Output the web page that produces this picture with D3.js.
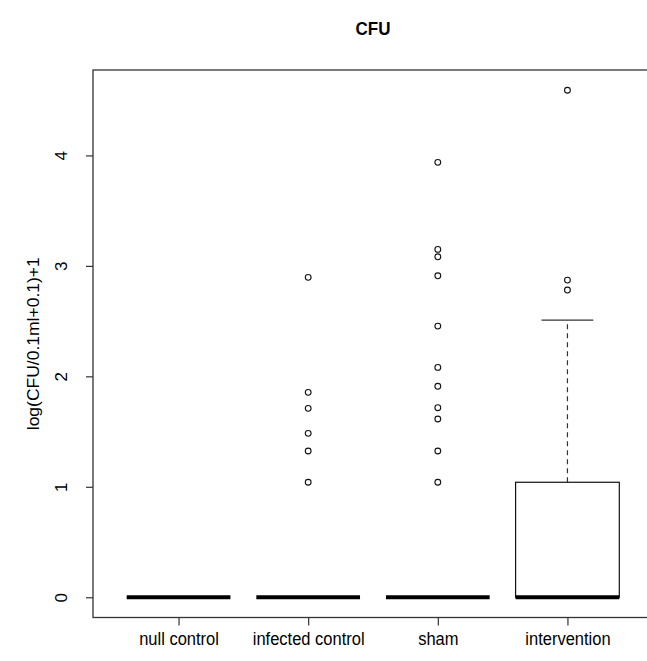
<!DOCTYPE html>
<html>
<head>
<meta charset="utf-8">
<script src="https://cdn.jsdelivr.net/npm/d3@7"></script>
<style>
  body { margin: 0; background: #fff; }
  text { font-family: "Liberation Sans", Arial, sans-serif; fill: #000; }
</style>
</head>
<body>
<div id="chart"></div>
<script>

// groups on the x axis
var categories = ["null control", "infected control", "sham", "intervention"];

// box statistics per group (log scale values)
var lowerWhisker = [0, 0, 0, 0];
var lowerHinge   = [0, 0, 0, 0];
var medians      = [0, 0, 0, 0];
var upperHinge   = [0, 0, 0, 1.041];
var upperWhisker = [0, 0, 0, 2.509];

// outlying points per group
var outliersNull = [];
var outliersInfected = [2.896, 1.855, 1.71, 1.484, 1.324, 1.041];
var outliersSham = [3.937, 3.149, 3.082, 2.91, 2.455, 2.081, 1.91, 1.716, 1.614, 1.324, 1.041];
var outliersIntervention = [4.59, 2.871, 2.781];

var yTicks = [0, 1, 2, 3, 4];


var width = 647, height = 661;
var plotLeft = 93, plotRight = 653, plotTop = 70, plotBottom = 617.5;
// text in the picture is a bit taller than wide
var stretch = 1.06;

var svg = d3.select("#chart").append("svg")
  .attr("width", width)
  .attr("height", height);

// R style padding: 4% on each side of the data range
var x = d3.scaleLinear().domain([0.34, 4.66]).range([plotLeft, plotRight]);
var y = d3.scaleLinear().domain([-0.1832, 4.7732]).range([plotBottom, plotTop]);

var outlierLists = [outliersNull, outliersInfected, outliersSham, outliersIntervention];
var boxHalf = 0.4;

categories.forEach(function(cat, i) {
  var cx = x(i + 1);
  var g = svg.append("g").attr("class", "box");

  // whiskers, dashed
  if (upperWhisker[i] > upperHinge[i]) {
    g.append("line")
      .attr("x1", cx).attr("x2", cx)
      .attr("y1", y(upperHinge[i])).attr("y2", y(upperWhisker[i]))
      .attr("stroke", "#333").attr("stroke-width", 1.2)
      .attr("stroke-dasharray", "5,4");
    g.append("line")
      .attr("x1", x(i + 1 - boxHalf / 2)).attr("x2", x(i + 1 + boxHalf / 2))
      .attr("y1", y(upperWhisker[i])).attr("y2", y(upperWhisker[i]))
      .attr("stroke", "#333").attr("stroke-width", 1.2);
  }

  // box
  if (upperHinge[i] > lowerHinge[i]) {
    g.append("rect")
      .attr("x", x(i + 1 - boxHalf))
      .attr("y", y(upperHinge[i]))
      .attr("width", x(i + 1 + boxHalf) - x(i + 1 - boxHalf))
      .attr("height", y(lowerHinge[i]) - y(upperHinge[i]))
      .attr("fill", "none").attr("stroke", "#111").attr("stroke-width", 1.2);
  }

  // median
  g.append("line")
    .attr("x1", x(i + 1 - boxHalf)).attr("x2", x(i + 1 + boxHalf))
    .attr("y1", y(medians[i])).attr("y2", y(medians[i]))
    .attr("stroke", "#000").attr("stroke-width", 4.2);

  // outliers
  g.selectAll("circle")
    .data(outlierLists[i])
    .enter().append("circle")
    .attr("cx", cx)
    .attr("cy", function(d) { return y(d); })
    .attr("r", 2.9)
    .attr("fill", "none")
    .attr("stroke", "#111")
    .attr("stroke-width", 1.1);
});

// frame
svg.append("rect")
  .attr("x", plotLeft).attr("y", plotTop)
  .attr("width", plotRight - plotLeft).attr("height", plotBottom - plotTop)
  .attr("fill", "none").attr("stroke", "#333").attr("stroke-width", 1.3);

// y axis
var yAxis = svg.append("g")
  .attr("transform", "translate(" + plotLeft + ",0)")
  .call(d3.axisLeft(y).tickValues(yTicks).tickSize(7).tickSizeOuter(0).tickFormat(d3.format("d")));
yAxis.select(".domain").remove();
yAxis.selectAll(".tick line").attr("stroke", "#333").attr("stroke-width", 1.2);
yAxis.selectAll(".tick text")
  .attr("x", 0).attr("dy", null)
  .attr("transform", "translate(-31.5,0) rotate(-90) scale(" + stretch + ",1)")
  .attr("text-anchor", "middle")
  .attr("dominant-baseline", "central")
  .style("font-size", "16px")
  .style("font-family", "'Liberation Sans', Arial, sans-serif");

// x axis
var xAxis = svg.append("g")
  .attr("transform", "translate(0," + plotBottom + ")")
  .call(d3.axisBottom(x).tickValues([1, 2, 3, 4]).tickSize(8).tickSizeOuter(0)
    .tickFormat(function(d) { return categories[d - 1]; }));
xAxis.select(".domain").remove();
xAxis.selectAll(".tick line").attr("stroke", "#333").attr("stroke-width", 1.2);
xAxis.selectAll(".tick text")
  .attr("y", 0).attr("dy", null)
  .attr("transform", "translate(0,22) scale(1," + stretch + ")")
  .attr("dominant-baseline", "central")
  .style("font-size", "16.5px")
  .style("font-family", "'Liberation Sans', Arial, sans-serif");

// title
svg.append("text")
  .attr("transform", "translate(" + ((plotLeft + plotRight) / 2) + ",29) scale(1," + stretch + ")")
  .attr("text-anchor", "middle").attr("dominant-baseline", "central")
  .style("font-size", "17px").style("font-weight", "bold")
  .text("CFU");

// y label
svg.append("text")
  .attr("transform", "translate(34," + ((plotTop + plotBottom) / 2) + ") rotate(-90) scale(" + stretch + ",1)")
  .attr("text-anchor", "middle").attr("dominant-baseline", "central")
  .style("font-size", "16.5px")
  .text("log(CFU/0.1ml+0.1)+1");

</script>
</body>
</html>
